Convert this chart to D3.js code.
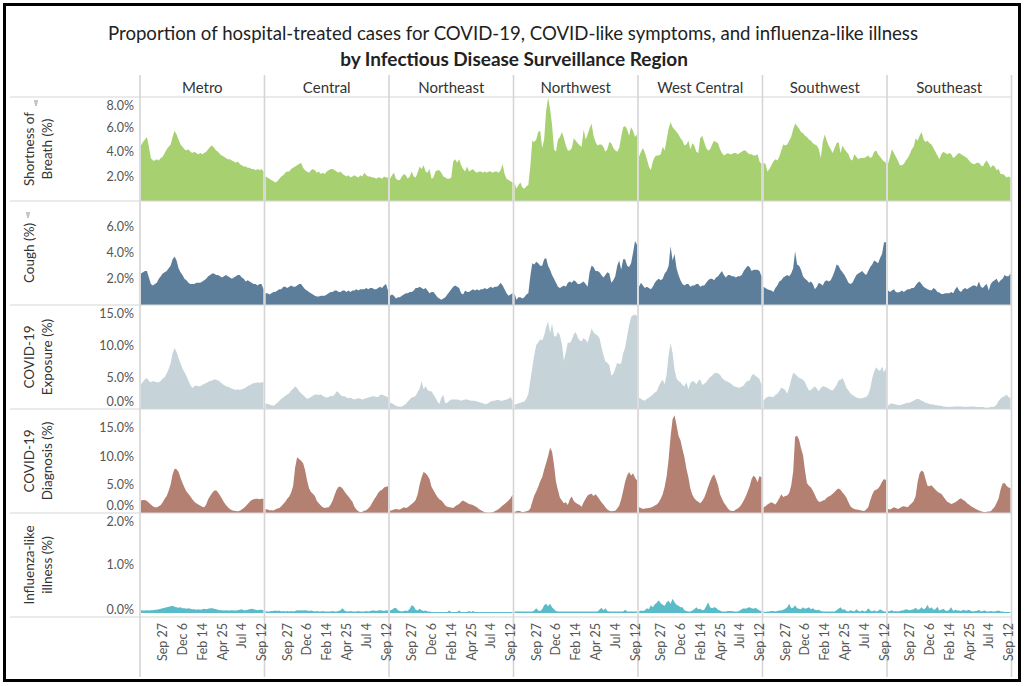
<!DOCTYPE html>
<html>
<head>
<meta charset="utf-8">
<script src="https://cdn.jsdelivr.net/npm/d3@7"></script>
<style>
  html, body { margin: 0; padding: 0; background: #fff; }
  svg { display: block; font-family: Lato, "Open Sans", sans-serif; }
</style>
</head>
<body>
<svg id="chart" width="1025" height="686"></svg>
<script>
// ---- categories & labels ----
const regions = ["Metro", "Central", "Northeast", "Northwest", "West Central", "Southwest", "Southeast"];
const measures = ["breath", "cough", "exposure", "diagnosis", "ili"];
const measureLabels = [
  ["Shortness of", "Breath (%)"],
  ["Cough (%)"],
  ["COVID-19", "Exposure (%)"],
  ["COVID-19", "Diagnosis (%)"],
  ["Influenza-like", "illness (%)"]
];
const titleLine1 = "Proportion of hospital-treated cases for COVID-19, COVID-like symptoms, and influenza-like illness";
const titleLine2 = "by Infectious Disease Surveillance Region";

// weekly observations, Sunday Jul 12 2020 through Sunday Sep 19 2021
const firstWeek = "2020-07-12";
const lastWeek = "2021-09-19";
const xTickDates = ["2020-09-27", "2020-12-06", "2021-02-14", "2021-04-25", "2021-07-04", "2021-09-12"];

// value axis ticks and extents per measure (percent)
const breathTicks = [2, 4, 6, 8];
const coughTicks = [2, 4, 6];
const exposureTicks = [0, 5, 10, 15];
const diagnosisTicks = [0, 5, 10, 15];
const iliTicks = [0, 1, 2];
const breathExtent = [0, 8.45];
const coughExtent = [0, 7.95];
const exposureExtent = [0, 16.4];
const diagnosisExtent = [0, 18.3];
const iliExtent = [-0.08, 2.04];

// ---- Shortness of breath (%) ----
const breath_Metro = [4.5,4.8,5.0,5.2,4.4,3.5,3.3,3.3,3.4,3.3, 3.5,3.6,3.9,4.2,4.4,4.6,5.2,5.7,5.4,5.0, 4.6,4.4,4.2,4.1,4.2,4.0,3.9,4.0,3.9,3.8, 3.9,3.8,3.9,4.0,4.2,4.4,4.5,4.3,4.1,4.0, 3.8,3.7,3.6,3.5,3.4,3.4,3.3,3.2,3.1,3.2, 3.0,2.9,2.8,2.8,2.7,2.7,2.6,2.6,2.5,2.6, 2.5,2.6,2.4];
const breath_Central = [2.0,1.9,1.8,1.7,1.6,1.5,1.6,1.8,2.0,2.1, 2.3,2.4,2.4,2.6,2.7,2.8,2.9,3.0,3.1,2.7, 2.5,2.4,2.3,2.5,2.6,2.5,2.3,2.4,2.2,2.3, 2.2,2.4,2.5,2.6,2.6,2.5,2.4,2.3,2.4,2.2, 2.1,2.0,2.1,1.9,2.0,2.1,2.0,1.9,2.1,2.0, 2.3,2.1,2.0,2.0,1.9,1.9,1.8,1.9,1.9,1.8, 2.0,1.9,1.9];
const breath_Northeast = [1.8,2.1,2.3,1.8,1.7,1.7,2.0,2.2,2.1,1.8, 2.0,2.4,2.0,1.9,2.3,2.8,2.6,2.9,2.4,2.3, 2.6,1.8,1.9,2.4,2.5,2.5,2.3,2.0,1.9,1.8, 1.8,1.9,3.2,3.4,3.1,3.4,2.9,2.6,2.4,2.8, 2.4,2.5,2.6,2.4,2.3,2.4,2.4,2.3,2.4,2.3, 2.4,2.4,2.3,2.4,2.4,2.3,2.5,3.0,2.2,1.8, 1.7,1.6,1.5];
const breath_Northwest = [1.5,1.0,1.3,1.5,1.1,1.0,1.2,1.3,2.8,4.9, 4.8,5.0,5.6,5.7,4.3,5.0,7.3,8.4,7.5,6.2, 4.2,4.0,5.0,5.2,5.6,5.1,4.5,4.1,4.1,4.3, 5.1,4.9,4.7,4.5,4.4,5.8,5.0,5.4,5.9,6.3, 5.3,4.8,4.5,4.6,4.6,4.4,4.0,4.2,4.8,4.7, 4.3,4.1,4.0,4.3,5.2,6.0,6.1,5.8,5.3,6.0, 5.7,5.2,5.4];
const breath_WestCentral = [3.6,4.0,4.3,3.9,3.4,2.8,2.5,3.2,3.6,3.7, 3.7,3.8,4.4,4.1,5.0,5.9,6.4,6.0,5.8,5.6, 5.4,5.1,4.9,4.5,4.6,4.9,4.2,4.7,4.5,4.0, 3.9,5.1,5.3,4.8,4.3,4.1,4.2,4.6,4.9,4.8, 4.7,4.2,3.9,3.7,3.8,3.9,3.8,3.8,3.9,3.9, 3.8,3.9,4.0,4.1,4.1,3.9,3.8,3.8,3.7,3.7, 3.8,3.2,3.0];
const breath_Southwest = [3.1,3.0,2.4,2.6,2.9,3.2,3.4,3.3,3.6,4.1, 4.6,4.5,4.6,4.9,5.2,5.8,6.3,6.1,5.9,5.6, 5.5,5.3,5.2,5.0,4.9,4.7,4.6,4.5,4.2,3.5, 4.8,5.4,4.9,4.5,4.2,3.9,4.3,4.7,4.8,3.9, 4.5,4.2,4.0,3.8,3.4,3.3,3.8,3.6,3.4,3.5, 3.5,3.5,3.6,3.7,3.5,3.6,4.0,4.1,3.8,3.6, 3.4,3.2,3.1];
const breath_Southeast = [3.0,3.6,4.2,3.9,3.6,3.3,2.9,2.9,3.0,3.3, 3.5,3.8,4.2,4.4,5.1,4.9,5.3,5.6,5.0,4.8, 4.9,4.7,4.6,4.3,4.0,3.7,3.4,3.8,4.0,3.9, 3.8,3.9,3.8,3.5,3.6,3.8,3.9,3.8,3.7,3.6, 3.5,3.3,3.1,3.0,3.0,3.1,3.1,2.9,2.8,3.1, 3.3,3.0,2.7,2.9,2.8,2.5,2.6,2.2,2.2,2.1, 1.9,2.0,1.9];

// ---- Cough (%) ----
const cough_Metro = [2.4,2.5,2.6,2.6,2.1,1.6,1.5,1.6,1.7,2.0, 2.2,2.4,2.5,2.6,2.8,3.0,3.5,3.7,3.4,2.8, 2.5,2.3,2.0,1.9,1.7,1.6,1.6,1.6,1.7,1.7, 1.7,1.8,1.9,2.0,2.2,2.3,2.4,2.4,2.3,2.3, 2.2,2.1,2.2,2.3,2.2,2.1,2.0,2.1,2.2,2.3, 2.3,2.1,2.0,1.8,1.9,1.8,1.7,1.6,1.6,1.5, 1.6,1.6,1.2];
const cough_Central = [0.9,0.9,0.8,0.9,1.0,1.0,1.1,1.2,1.2,1.4, 1.4,1.3,1.4,1.5,1.4,1.4,1.5,1.6,1.6,1.4, 1.2,1.1,1.0,0.9,0.8,0.7,0.65,0.65,0.7,0.7, 0.7,0.8,0.9,1.0,1.0,1.1,1.1,1.0,1.0,1.1, 1.1,1.0,1.1,1.0,1.1,1.1,1.2,1.1,1.2,1.2, 1.2,1.3,1.2,1.3,1.3,1.2,1.2,1.3,1.4,1.3, 1.5,1.6,1.1];
const cough_Northeast = [0.7,0.8,0.7,0.5,0.6,0.6,0.7,0.8,0.9,0.9, 1.0,1.0,1.1,1.3,1.3,1.4,1.3,1.2,1.3,1.1, 0.9,1.0,1.0,0.8,0.6,0.5,0.4,0.5,0.6,0.8, 1.0,1.2,1.4,1.5,1.4,1.3,0.9,0.8,1.1,1.0, 1.0,1.1,1.2,1.1,1.2,1.1,1.2,1.2,1.3,1.2, 1.3,1.4,1.3,1.4,1.4,1.5,1.7,1.5,1.2,0.9, 0.7,0.8,0.9];
const cough_Northwest = [0.9,0.4,0.6,0.6,0.5,0.6,0.8,0.9,2.2,3.2, 3.1,3.3,3.2,3.0,3.0,3.5,3.6,3.0,2.7,2.3, 2.0,1.7,1.4,1.3,1.4,1.5,1.4,1.7,1.8,1.7, 1.9,1.8,1.6,1.6,1.7,1.8,1.6,1.4,2.5,3.0, 2.9,2.6,2.6,2.5,2.3,2.1,2.3,2.5,2.4,1.7, 1.9,2.2,3.0,3.4,2.7,3.5,3.5,3.0,2.9,3.2, 4.0,4.9,4.6];
const cough_WestCentral = [1.4,1.7,1.5,1.3,1.4,1.3,1.2,1.4,1.7,1.9, 2.0,1.9,2.0,2.4,2.6,3.0,4.5,3.4,3.9,2.8, 2.3,1.9,1.6,1.5,1.6,1.6,1.4,1.5,1.5,1.6, 1.6,1.4,1.5,1.5,1.7,1.9,2.0,2.0,1.9,2.1, 2.2,2.4,2.6,2.3,2.1,2.3,2.3,2.2,2.2,2.1, 2.2,2.2,2.3,2.6,2.8,3.0,2.9,2.6,2.7,2.7, 2.7,2.6,2.2];
const cough_Southwest = [1.4,1.3,1.2,1.15,1.1,1.0,1.3,1.5,1.8,1.9, 2.1,2.2,2.3,2.2,2.4,2.8,4.1,3.1,3.0,2.7, 2.2,2.0,1.9,1.7,1.8,1.6,1.2,1.4,1.7,1.6, 1.5,1.8,1.9,1.8,1.9,2.2,2.6,3.1,3.0,2.7, 2.5,2.3,2.0,1.7,1.6,1.7,2.0,2.3,2.4,2.5, 2.6,2.4,2.3,2.6,2.9,3.1,3.4,3.3,3.2,3.6, 3.9,4.8,4.8];
const cough_Southeast = [1.1,1.0,1.1,1.2,1.0,0.95,1.0,1.1,1.0,1.1, 1.2,1.2,1.3,1.3,1.5,1.7,1.8,1.6,1.4,1.3, 1.2,1.15,1.1,1.3,1.2,1.0,0.95,0.85,0.85,0.9, 0.9,0.9,1.0,0.9,1.2,1.4,1.1,1.0,1.2,1.3, 1.2,1.3,1.4,1.5,1.5,1.4,1.8,1.4,1.3,1.5, 1.6,1.1,1.6,1.8,1.9,2.0,1.7,1.9,2.0,2.3, 2.2,2.2,2.4];

// ---- COVID-19 exposure (%) ----
const exposure_Metro = [3.9,4.3,4.7,4.9,4.4,4.2,4.4,4.3,4.2,4.2, 4.4,4.8,5.0,5.6,6.3,7.2,8.8,9.6,9.0,8.0, 7.2,6.4,5.8,5.2,4.5,3.8,3.3,3.6,3.7,3.6, 3.6,3.8,4.0,4.1,4.3,4.4,4.5,4.7,4.6,4.5, 4.3,4.0,3.8,3.6,3.5,3.4,3.2,3.1,3.0,3.1, 3.0,3.1,3.2,3.4,3.6,3.8,3.9,4.1,4.1,4.2, 4.1,4.2,4.2];
const exposure_Central = [0.9,0.8,0.7,0.6,0.5,0.7,1.0,1.3,1.6,1.8, 2.1,2.3,2.5,2.9,3.2,3.6,3.3,2.8,2.5,2.2, 1.9,1.6,1.7,1.9,2.1,2.3,2.3,2.2,2.3,2.1, 1.9,1.8,1.9,2.1,2.0,2.3,2.8,2.6,2.2,2.0, 2.0,1.8,1.7,1.8,1.6,1.5,1.6,1.7,1.6,1.5, 1.6,1.7,1.8,1.9,2.0,2.0,1.9,1.9,2.2,2.3, 2.1,2.0,1.8];
const exposure_Northeast = [1.0,0.9,0.7,0.5,0.4,0.35,0.4,0.6,0.8,1.2, 1.5,1.8,1.9,2.1,2.7,3.2,4.4,3.1,3.6,3.0, 2.8,2.8,2.3,1.8,1.2,0.8,1.8,2.2,0.9,1.0, 1.3,1.5,1.5,1.5,1.5,1.4,1.3,1.4,1.5,1.5, 1.4,1.3,1.3,1.3,1.2,1.1,1.0,0.9,0.8,0.8, 1.0,1.2,1.3,1.3,1.4,1.4,1.3,1.3,1.4,1.5, 1.6,1.9,1.3];
const exposure_Northwest = [0.7,0.8,0.9,1.0,1.1,1.2,1.6,2.4,4.5,6.5, 8.5,10.1,10.5,11.0,10.8,11.6,12.9,13.8,12.0,13.5, 11.5,11.4,12.2,11.6,10.2,7.6,9.0,10.5,10.4,10.9, 11.8,12.1,11.3,10.8,10.7,11.2,10.9,10.5,11.5,12.7, 12.1,11.8,11.6,11.2,9.8,8.5,7.5,7.3,6.9,5.3, 5.5,6.4,7.3,7.1,7.2,8.8,9.7,11.5,13.2,14.5, 14.8,14.9,14.7];
const exposure_WestCentral = [1.8,1.6,1.4,1.3,1.6,1.8,2.0,2.3,2.6,2.8, 3.6,4.2,4.6,3.9,5.5,8.5,10.4,8.8,6.2,4.8, 4.4,4.2,3.8,3.6,4.2,3.1,4.1,4.4,4.3,3.9, 4.4,4.7,3.8,4.0,4.2,4.7,5.0,5.3,5.6,5.7, 5.6,5.4,4.9,4.6,4.4,4.3,4.1,3.9,3.6,3.5, 3.4,3.4,3.5,3.7,4.2,4.4,4.5,5.3,5.5,5.2, 5.0,4.7,3.8];
const exposure_Southwest = [1.3,1.7,1.9,2.0,1.9,1.9,2.2,2.4,2.8,3.4, 3.2,3.0,2.4,3.4,4.6,5.7,5.5,5.2,4.9,4.8, 4.6,4.2,3.5,2.9,3.0,3.3,3.6,3.2,2.8,3.3, 3.6,3.5,3.4,3.2,3.0,2.9,3.3,3.8,4.5,4.6, 4.9,4.2,3.3,2.9,2.5,2.2,2.0,1.8,1.7,1.7, 1.7,1.8,1.9,2.3,3.2,4.8,5.9,6.6,6.2,6.0, 6.7,5.8,6.4];
const exposure_Southeast = [0.5,0.8,0.9,0.8,0.7,0.65,0.6,0.7,0.8,0.9, 1.0,1.0,1.2,1.3,1.5,1.6,1.5,1.3,1.2,1.0, 0.9,0.8,0.7,0.7,0.6,0.6,0.5,0.5,0.4,0.35, 0.35,0.3,0.35,0.35,0.4,0.4,0.4,0.4,0.35,0.3, 0.35,0.35,0.4,0.4,0.35,0.3,0.3,0.3,0.3,0.25, 0.2,0.25,0.3,0.3,0.4,0.7,1.3,1.6,1.9,2.0, 2.3,1.9,1.7];

// ---- COVID-19 diagnosis (%) ----
const diagnosis_Metro = [2.2,2.3,2.3,2.1,1.8,1.5,1.2,1.0,1.0,1.2, 1.4,1.9,2.5,3.0,3.9,5.0,6.8,7.8,7.7,7.2, 6.2,5.3,4.5,3.8,3.4,2.9,2.4,2.0,1.7,1.5, 1.3,1.1,1.0,1.5,2.4,3.0,3.5,3.9,4.0,3.6, 3.1,2.5,1.9,1.4,1.0,0.7,0.5,0.4,0.35,0.3, 0.4,0.6,0.9,1.2,1.6,2.0,2.3,2.4,2.5,2.5, 2.4,2.5,2.5];
const diagnosis_Central = [0.7,0.6,0.5,0.5,0.45,0.6,0.8,0.9,1.2,1.6, 2.0,2.5,2.9,3.6,4.8,8.0,9.8,9.5,9.2,8.8, 7.6,5.8,4.4,3.7,3.4,3.0,2.1,1.7,1.3,1.0, 0.9,0.95,1.0,1.5,2.2,3.2,4.1,4.6,4.6,4.3, 3.8,3.3,2.9,2.4,2.0,1.1,0.6,0.3,0.15,0.2, 0.4,0.5,0.8,1.2,1.8,2.4,2.9,3.5,3.9,4.1, 4.5,4.6,4.7];
const diagnosis_Northeast = [0.4,0.5,0.6,0.7,0.6,0.6,0.8,1.0,0.9,1.0, 1.3,1.6,1.9,2.3,3.3,5.0,6.3,7.2,7.0,6.6, 6.0,4.6,4.0,3.4,2.8,2.4,2.2,1.8,1.3,1.1, 1.0,0.95,0.9,1.2,1.4,1.6,2.0,2.2,2.0,1.8, 1.6,1.5,1.4,1.2,1.0,0.7,0.5,0.3,0.15,0.1, 0.05,0.1,0.15,0.3,0.5,0.7,1.0,1.3,1.6,1.9, 2.2,2.6,3.2];
const diagnosis_Northwest = [0.2,0.3,0.4,0.3,0.15,0.2,0.3,0.4,0.8,2.0, 3.1,3.8,4.6,5.6,6.3,7.6,8.8,10.0,11.5,10.8, 8.5,5.5,4.0,2.7,2.2,1.7,1.9,1.4,2.4,2.9, 2.1,1.8,1.6,1.4,1.1,1.9,2.5,3.1,3.3,3.4, 3.0,3.3,2.9,2.4,1.9,1.5,1.0,0.6,0.4,0.3, 0.35,0.4,0.8,1.3,2.4,3.9,5.5,6.6,7.2,6.6, 7.0,6.2,5.7];
const diagnosis_WestCentral = [1.0,0.9,0.7,0.8,0.85,0.9,0.95,1.1,1.3,1.5, 1.9,2.5,3.3,4.6,6.5,9.5,13.5,16.5,17.2,15.5, 13.6,12.8,11.2,9.8,7.8,6.3,4.3,3.2,2.6,2.2, 2.0,1.7,2.1,2.7,3.6,4.6,5.6,6.4,6.8,5.9, 4.9,3.3,2.5,1.8,1.3,0.8,0.45,0.35,0.35,0.6, 0.8,1.1,1.6,2.2,2.9,3.8,4.7,6.0,6.6,6.2, 5.4,6.5,6.3];
const diagnosis_Southwest = [1.0,1.2,1.5,1.7,1.9,1.7,1.5,2.0,2.6,3.3, 2.8,3.0,3.1,3.5,4.8,7.2,13.4,13.6,12.9,11.4, 10.2,7.5,5.3,4.8,4.5,3.9,3.2,2.4,2.0,2.0, 2.2,2.3,2.7,2.9,3.1,3.4,3.7,4.1,4.3,4.1, 3.6,3.2,2.7,1.9,1.2,0.9,0.7,0.6,0.55,0.5, 0.4,0.35,0.6,1.0,2.2,3.2,3.9,4.1,4.3,4.8, 5.5,6.0,5.8];
const diagnosis_Southeast = [0.7,0.6,0.8,1.0,0.9,0.7,0.9,1.1,1.2,1.1, 1.0,1.4,1.7,2.1,3.0,5.5,7.0,7.5,7.2,6.0, 4.8,4.7,4.9,4.5,4.1,3.8,3.5,3.4,2.9,2.4, 2.0,1.8,1.6,1.7,1.9,2.1,2.4,2.6,2.3,2.1, 1.7,1.5,1.2,1.0,0.8,0.6,0.45,0.3,0.2,0.15, 0.2,0.25,0.3,0.7,1.1,1.8,2.6,4.2,5.2,5.3, 4.8,4.5,4.4];

// ---- Influenza-like illness (%) ----
const ili_Metro = [0.06,0.05,0.05,0.06,0.05,0.06,0.06,0.07,0.07,0.08, 0.09,0.10,0.11,0.12,0.13,0.14,0.15,0.13,0.12,0.11, 0.12,0.10,0.10,0.09,0.10,0.09,0.08,0.08,0.07,0.08, 0.07,0.08,0.09,0.08,0.09,0.10,0.10,0.09,0.08,0.07, 0.06,0.06,0.05,0.06,0.05,0.05,0.06,0.05,0.05,0.06, 0.07,0.08,0.06,0.06,0.07,0.08,0.09,0.08,0.07,0.06, 0.07,0.07,0.06];
const ili_Central = [0.04,0.03,0.03,0.04,0.04,0.05,0.04,0.05,0.03,0.04, 0.03,0.04,0.03,0.04,0.03,0.04,0.06,0.05,0.06,0.05, 0.06,0.05,0.04,0.05,0.04,0.03,0.04,0.03,0.03,0.04, 0.03,0.03,0.03,0.03,0.04,0.03,0.03,0.04,0.06,0.10, 0.05,0.03,0.03,0.04,0.03,0.03,0.03,0.04,0.03,0.03, 0.03,0.04,0.03,0.04,0.05,0.05,0.04,0.05,0.06,0.05, 0.04,0.06,0.05];
const ili_Northeast = [0.05,0.07,0.10,0.11,0.06,0.04,0.03,0.04,0.05,0.04, 0.09,0.16,0.14,0.07,0.05,0.09,0.06,0.04,0.05,0.03, 0.03,0.02,0.02,0.02,0.02,0.02,0.02,0.02,0.02,0.02, 0.05,0.02,0.02,0.02,0.02,0.05,0.02,0.02,0.02,0.02, 0.04,0.02,0.04,0.02,0.02,0.02,0.02,0.02,0.02,0.02, 0.02,0.02,0.02,0.02,0.02,0.02,0.02,0.02,0.02,0.02, 0.02,0.02,0.02];
const ili_Northwest = [0.03,0.03,0.03,0.03,0.03,0.03,0.03,0.03,0.03,0.03, 0.05,0.10,0.05,0.04,0.08,0.16,0.19,0.14,0.19,0.12, 0.08,0.04,0.03,0.03,0.03,0.03,0.03,0.03,0.03,0.03, 0.03,0.03,0.03,0.03,0.03,0.03,0.03,0.03,0.03,0.03, 0.03,0.03,0.03,0.07,0.11,0.06,0.10,0.04,0.03,0.03, 0.03,0.03,0.03,0.03,0.03,0.03,0.07,0.03,0.03,0.03, 0.03,0.03,0.03];
const ili_WestCentral = [0.03,0.05,0.04,0.06,0.10,0.08,0.16,0.12,0.18,0.21, 0.26,0.20,0.17,0.15,0.22,0.25,0.19,0.29,0.22,0.17, 0.15,0.12,0.12,0.06,0.04,0.03,0.03,0.05,0.08,0.12, 0.08,0.09,0.06,0.07,0.14,0.22,0.12,0.10,0.12,0.11, 0.07,0.05,0.03,0.03,0.03,0.04,0.04,0.04,0.03,0.03, 0.03,0.05,0.08,0.10,0.09,0.11,0.12,0.10,0.09,0.11, 0.08,0.05,0.04];
const ili_Southwest = [0.03,0.02,0.03,0.03,0.04,0.04,0.03,0.04,0.05,0.05, 0.07,0.09,0.12,0.19,0.10,0.11,0.16,0.10,0.09,0.08, 0.12,0.09,0.10,0.12,0.08,0.10,0.07,0.06,0.07,0.04, 0.03,0.03,0.03,0.03,0.03,0.03,0.03,0.06,0.09,0.12, 0.07,0.08,0.04,0.03,0.06,0.04,0.03,0.08,0.04,0.03, 0.06,0.03,0.04,0.10,0.05,0.03,0.06,0.03,0.04,0.08, 0.05,0.03,0.03];
const ili_Southeast = [0.03,0.04,0.06,0.03,0.04,0.03,0.04,0.05,0.06,0.08, 0.07,0.06,0.07,0.08,0.11,0.07,0.08,0.12,0.08,0.10, 0.17,0.09,0.12,0.07,0.08,0.13,0.05,0.07,0.09,0.05, 0.04,0.07,0.12,0.04,0.07,0.05,0.05,0.04,0.07,0.05, 0.05,0.07,0.04,0.03,0.04,0.04,0.07,0.03,0.04,0.05, 0.03,0.03,0.04,0.03,0.03,0.04,0.05,0.03,0.03,0.02, 0.02,0.02,0.02];

// ---- lookup tables assembled from the arrays above ----
const seriesTable = {
  breath:    [breath_Metro, breath_Central, breath_Northeast, breath_Northwest, breath_WestCentral, breath_Southwest, breath_Southeast],
  cough:     [cough_Metro, cough_Central, cough_Northeast, cough_Northwest, cough_WestCentral, cough_Southwest, cough_Southeast],
  exposure:  [exposure_Metro, exposure_Central, exposure_Northeast, exposure_Northwest, exposure_WestCentral, exposure_Southwest, exposure_Southeast],
  diagnosis: [diagnosis_Metro, diagnosis_Central, diagnosis_Northeast, diagnosis_Northwest, diagnosis_WestCentral, diagnosis_Southwest, diagnosis_Southeast],
  ili:       [ili_Metro, ili_Central, ili_Northeast, ili_Northwest, ili_WestCentral, ili_Southwest, ili_Southeast]
};
const tickTable = { breath: breathTicks, cough: coughTicks, exposure: exposureTicks, diagnosis: diagnosisTicks, ili: iliTicks };
const extentTable = { breath: breathExtent, cough: coughExtent, exposure: exposureExtent, diagnosis: diagnosisExtent, ili: iliExtent };
const colorTable = { breath: "#a7d070", cough: "#5d7e9a", exposure: "#c6d4d9", diagnosis: "#b48072", ili: "#5abbc9" };

// ---- layout ----
const W = 1025, H = 686;
const gridLeft = 140, gridRight = 1011.5;
const headerTop = 75, headerBottom = 97;
const rowsBottom = 617, axisBottom = 677;
const lineColor = "#d5d5d5";
const textColor = "#333";
const tickColor = "#555";

const parse = d3.timeParse("%Y-%m-%d");
const weeks = d3.timeWeek.range(parse(firstWeek), d3.timeDay.offset(parse(lastWeek), 1));
const fmt = d3.timeFormat("%b %-d");

const svg = d3.select("#chart");
svg.append("rect").attr("width", W).attr("height", H).attr("fill", "#fff");

const colScale = d3.scaleBand().domain(regions).range([gridLeft, gridRight]);
const rowScale = d3.scaleBand().domain(measures).range([headerBottom, rowsBottom]);

// titles, sized to their measured widths
function fitFont(sel, target, base) {
  sel.attr("font-size", base);
  const w = sel.node().getComputedTextLength();
  sel.attr("font-size", (base * target / w).toFixed(2));
}
const t1 = svg.append("text").attr("x", 513).attr("y", 33).attr("text-anchor", "middle")
  .attr("dominant-baseline", "central").attr("fill", "#222").text(titleLine1);
fitFont(t1, 810, 17);
const t2 = svg.append("text").attr("x", 514).attr("y", 58).attr("text-anchor", "middle")
  .attr("dominant-baseline", "central").attr("fill", "#222").attr("font-weight", "bold").text(titleLine2);
fitFont(t2, 348, 17);

// grid lines
const grid = svg.append("g").attr("stroke", lineColor).attr("fill", "none");
[headerBottom, ...measures.map(m => rowScale(m) + rowScale.bandwidth())].forEach(y => {
  grid.append("line").attr("x1", 10).attr("x2", gridRight).attr("y1", y).attr("y2", y).attr("stroke-width", 1.2);
});

// panels
measures.forEach((m, ri) => {
  const top = rowScale(m), bottom = top + rowScale.bandwidth();
  const y = d3.scaleLinear().domain(extentTable[m]).range([bottom, top]);

  regions.forEach((r, ci) => {
    const x0 = colScale(r), x1 = x0 + colScale.bandwidth();
    const x = d3.scaleTime().domain([weeks[0], weeks[weeks.length - 1]]).range([x0 + 1, x1 - 1]);
    const values = seriesTable[m][ci];
    const area = d3.area()
      .x((d, i) => x(weeks[i]))
      .y0(y(0))
      .y1(d => y(d));
    svg.append("path").datum(values).attr("d", area).attr("fill", colorTable[m]);
  });

  // value axis labels, kept inside the pane
  const ticks = svg.append("g").attr("font-size", 12.5).attr("fill", tickColor).attr("text-anchor", "end");
  tickTable[m].forEach(t => {
    const ty = Math.max(top + 8, Math.min(bottom - 8, y(t)));
    ticks.append("text").attr("x", 134).attr("y", ty).attr("dominant-baseline", "central")
      .text(d3.format(".1f")(t) + "%");
  });

  // row label
  const lab = svg.append("g").attr("transform", `translate(0,${(top + bottom) / 2})`);
  const lines = measureLabels[ri];
  lines.forEach((s, li) => {
    lab.append("text").attr("transform", `translate(${34 + li * 18},0) rotate(-90)`)
      .attr("text-anchor", "middle").attr("font-size", 13.5).attr("fill", textColor).text(s);
  });
});

// sort indicators beside the first two row labels
[{ m: "breath", x: 36, dy: -46 }, { m: "cough", x: 28, dy: -38 }].forEach(o => {
  const cy = rowScale(o.m) + rowScale.bandwidth() / 2 + o.dy;
  const g = svg.append("g").attr("transform", `translate(${o.x},${cy})`).attr("stroke", "#8a8a8a").attr("stroke-width", 1);
  g.append("line").attr("x1", -2).attr("x2", 2).attr("y1", -2).attr("y2", -2);
  g.append("line").attr("x1", -1.5).attr("x2", 1.5).attr("y1", 0).attr("y2", 0);
  g.append("line").attr("x1", -1).attr("x2", 1).attr("y1", 2).attr("y2", 2);
});

// vertical separators
regions.concat([null]).forEach((r, i) => {
  const xv = r ? colScale(r) : gridRight;
  grid.append("line").attr("x1", xv).attr("x2", xv).attr("y1", headerTop).attr("y2", axisBottom).attr("stroke-width", 1.6);
});
svg.node().appendChild(grid.node());

// column headers
regions.forEach(r => {
  svg.append("text").attr("x", colScale(r) + colScale.bandwidth() / 2).attr("y", 87)
    .attr("text-anchor", "middle").attr("dominant-baseline", "central")
    .attr("font-size", 15).attr("fill", textColor).text(r);
});

// time axis labels
const tickDates = xTickDates.map(parse);
regions.forEach(r => {
  const x0 = colScale(r), x1 = x0 + colScale.bandwidth();
  const x = d3.scaleTime().domain([weeks[0], weeks[weeks.length - 1]]).range([x0 + 1, x1 - 1]);
  tickDates.forEach(d => {
    svg.append("text").attr("transform", `translate(${x(d)},${rowsBottom + 6}) rotate(-90)`)
      .attr("text-anchor", "end").attr("dominant-baseline", "central")
      .attr("font-size", 12.5).attr("fill", tickColor).text(fmt(d));
  });
});

// outer frame
svg.append("rect").attr("x", 4.5).attr("y", 4.5).attr("width", 1015).attr("height", 676)
  .attr("fill", "none").attr("stroke", "#000").attr("stroke-width", 3);
</script>
</body>
</html>
